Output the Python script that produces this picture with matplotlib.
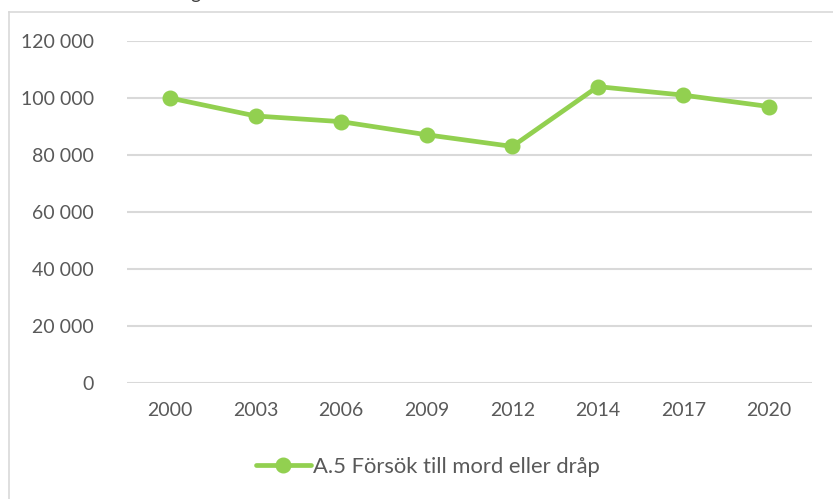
import matplotlib
matplotlib.use("Agg")
import matplotlib.pyplot as plt
from matplotlib.lines import Line2D

years = ["2000", "2003", "2006", "2009", "2012", "2014", "2017", "2020"]
values = [100000, 93700, 91700, 87100, 83000, 104000, 101000, 97000]
series_name = "A.5 Försök till mord eller dråp"
yticks = [0, 20000, 40000, 60000, 80000, 100000, 120000]
ytick_labels = ["0", "20 000", "40 000", "60 000", "80 000", "100 000", "120 000"]

W, H = 833, 499
plt.rcParams['font.family'] = ['Lato', 'DejaVu Sans']
text_color = "#595959"
green = "#92D050"
grid_color = "#D9D9D9"
fs = 14

fig = plt.figure(figsize=(W / 100, H / 100), dpi=100)
fig.patch.set_facecolor("white")

left, right = 127.2, 811.8
top, bottom = 41, 383
ax = fig.add_axes([left / W, (H - bottom) / H, (right - left) / W, (bottom - top) / H])
ax.set_facecolor("none")

x = list(range(len(years)))
ax.plot(x, values, color=green, linewidth=3.4, marker="o", markersize=10.5,
        markerfacecolor=green, markeredgecolor=green, solid_capstyle="round",
        label=series_name, zorder=3, clip_on=False)

ax.set_xlim(-0.5, len(years) - 0.5)
ax.set_ylim(0, 120000)
ax.set_yticks(yticks)
ax.set_yticklabels(ytick_labels)
ax.set_xticks(x)
ax.set_xticklabels(years)
ax.tick_params(axis="both", length=0, colors=text_color, labelsize=fs)
ax.tick_params(axis="y", pad=24)
ax.tick_params(axis="x", pad=14)
for s in ax.spines.values():
    s.set_visible(False)
ax.grid(axis="y", color=grid_color, linewidth=1.5)
ax.set_axisbelow(True)

# chart-area border (partly cut off)
fig.add_artist(Line2D([9 / W, 9 / W], [0, (H - 12) / H], transform=fig.transFigure,
                      color=grid_color, linewidth=1.2))
fig.add_artist(Line2D([9 / W, 1], [(H - 12) / H, (H - 12) / H], transform=fig.transFigure,
                      color=grid_color, linewidth=1.2))

# cut-off title remnant (cut off at the top in the reference as well)
fig.text(195 / W, (H + 1) / H, "g", ha="center", va="baseline", color="#404040", fontsize=fs)

leg = fig.legend(loc="center", bbox_to_anchor=(428 / W, (H - 467) / H), frameon=False,
                 fontsize=15.8, handlelength=2.5, handletextpad=0.1, labelcolor=text_color)

fig.savefig("out.png", dpi=100, facecolor="white")
